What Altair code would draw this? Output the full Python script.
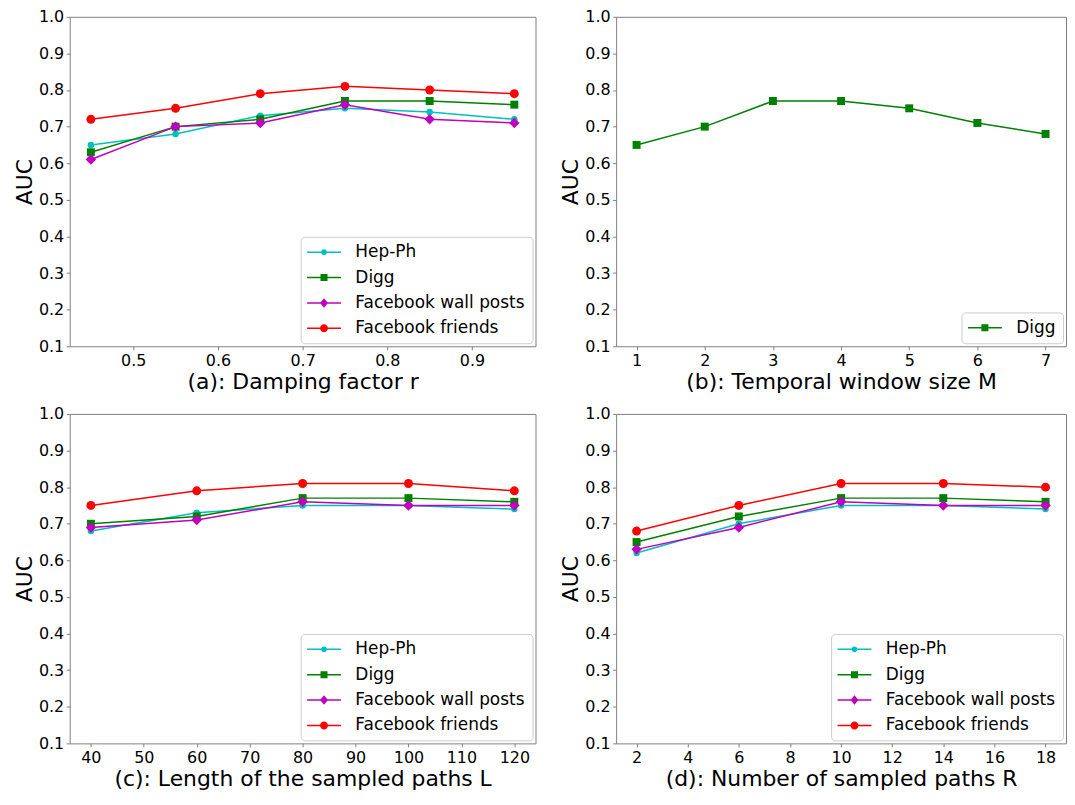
import altair as alt
import pandas as pd

SERIES = ["Hep-Ph", "Digg", "Facebook wall posts", "Facebook friends"]
COLORS = ["#00bfbf", "#008000", "#bf00bf", "#ff0000"]
SHAPES = ["circle", "square", "diamond", "circle"]
SIZES = [42, 64, 110, 80]

a_x = [0.45, 0.55, 0.65, 0.75, 0.85, 0.95]
a_hep = [0.65, 0.68, 0.73, 0.75, 0.74, 0.72]
a_digg = [0.63, 0.70, 0.72, 0.77, 0.77, 0.76]
a_fbw = [0.61, 0.70, 0.71, 0.76, 0.72, 0.71]
a_fbf = [0.72, 0.75, 0.79, 0.81, 0.80, 0.79]

b_x = [1, 2, 3, 4, 5, 6, 7]
b_digg = [0.65, 0.70, 0.77, 0.77, 0.75, 0.71, 0.68]

c_x = [40, 60, 80, 100, 120]
c_hep = [0.68, 0.73, 0.75, 0.75, 0.74]
c_digg = [0.70, 0.72, 0.77, 0.77, 0.76]
c_fbw = [0.69, 0.71, 0.76, 0.75, 0.75]
c_fbf = [0.75, 0.79, 0.81, 0.81, 0.79]

d_x = [2, 6, 10, 14, 18]
d_hep = [0.62, 0.70, 0.75, 0.75, 0.74]
d_digg = [0.65, 0.72, 0.77, 0.77, 0.76]
d_fbw = [0.63, 0.69, 0.76, 0.75, 0.75]
d_fbf = [0.68, 0.75, 0.81, 0.81, 0.80]

y_ticks = [0.1, 0.2, 0.3, 0.4, 0.5, 0.6, 0.7, 0.8, 0.9, 1.0]

FONT = "DejaVu Sans"

# legend symbol paths (line + marker), unit = sqrt(symbolSize)/2 px
L = 2.125
T = 0.094
LINE = f"M{-L},{-T}H{L}V{T}H{-L}Z"


def circ(r):
    return f"M{r},0A{r},{r} 0 1,1 {-r},0A{r},{r} 0 1,1 {r},0Z"


LEG_PATHS = {
    "Hep-Ph": LINE + circ(0.36),
    "Digg": LINE + "M-0.44,-0.44H0.44V0.44H-0.44Z",
    "Facebook wall posts": LINE + "M0,-0.6L0.5,0L0,0.6L-0.5,0Z",
    "Facebook friends": LINE + circ(0.5),
}


def make_df(x, series_vals):
    rows = []
    for name, vals in series_vals:
        for xi, yi in zip(x, vals):
            rows.append({"x": xi, "y": yi, "series": name})
    return pd.DataFrame(rows)


def panel(df, names, xdom, xticks, xfmt, title, width, height, offset):
    idx = [SERIES.index(n) for n in names]
    cols = [COLORS[i] for i in idx]

    xenc = alt.X("x:Q", scale=alt.Scale(domain=xdom, nice=False, zero=False),
                 axis=alt.Axis(values=xticks, format=xfmt, title=title))
    yenc = alt.Y("y:Q", scale=alt.Scale(domain=[0.1, 1.0], nice=False, zero=False),
                 axis=alt.Axis(values=y_ticks, format=".1f", title="AUC"))

    layers = []
    for i in idx:
        n = SERIES[i]
        base = alt.Chart(df).transform_filter(alt.datum.series == n)
        layers.append(base.mark_line(color=COLORS[i], strokeWidth=1.5).encode(x=xenc, y=yenc))
        layers.append(base.mark_point(filled=True, opacity=1, shape=SHAPES[i],
                                      size=SIZES[i], color=COLORS[i]).encode(x=xenc, y=yenc))

    leg = alt.Legend(
        title=None, orient="bottom-right", offset=offset,
        labelFont=FONT, labelFontSize=17, labelColor="black", labelLimit=400,
        symbolSize=256, symbolStrokeWidth=0, symbolOffset=8, labelOffset=23,
        rowPadding=7.5, padding=7,
        fillColor="rgba(255,255,255,0.8)", strokeColor="#cccccc",
        cornerRadius=4,
    )
    # legend-only layer: no rows pass the filter, the legend comes from the scale domains
    legend_layer = alt.Chart(df).transform_filter(alt.datum.series == "__none__").mark_point(
        filled=True, opacity=1
    ).encode(
        x=xenc, y=yenc,
        color=alt.Color("series:N", scale=alt.Scale(domain=names, range=cols), legend=leg),
        shape=alt.Shape("series:N", scale=alt.Scale(domain=names,
                                                    range=[LEG_PATHS[n] for n in names]),
                        legend=leg),
    )
    layers.append(legend_layer)
    return alt.layer(*layers).properties(width=width, height=height)


df_a = make_df(a_x, [("Hep-Ph", a_hep), ("Digg", a_digg),
                     ("Facebook wall posts", a_fbw), ("Facebook friends", a_fbf)])
df_b = make_df(b_x, [("Digg", b_digg)])
df_c = make_df(c_x, [("Hep-Ph", c_hep), ("Digg", c_digg),
                     ("Facebook wall posts", c_fbw), ("Facebook friends", c_fbf)])
df_d = make_df(d_x, [("Hep-Ph", d_hep), ("Digg", d_digg),
                     ("Facebook wall posts", d_fbw), ("Facebook friends", d_fbf)])

W1, W2, H = 468, 452, 331
OFF = 3

pa = panel(df_a, SERIES, [0.425, 0.975], [0.5, 0.6, 0.7, 0.8, 0.9], ".1f",
           "(a): Damping factor r", W1, H, OFF)
pb = panel(df_b, ["Digg"], [0.7, 7.3], [1, 2, 3, 4, 5, 6, 7], "d",
           "(b): Temporal window size M", W2, H, OFF)
pc = panel(df_c, SERIES, [36, 124], [40, 50, 60, 70, 80, 90, 100, 110, 120], "d",
           "(c): Length of the sampled paths L", W1, H, OFF)
pd_ = panel(df_d, SERIES, [1.2, 18.8], [2, 4, 6, 8, 10, 12, 14, 16, 18], "d",
            "(d): Number of sampled paths R", W2, H, OFF)


def res(ch):
    return ch.resolve_scale(color="independent", shape="independent",
                            x="independent", y="independent").resolve_legend(
        color="independent", shape="independent")


top = res(alt.hconcat(pa, pb, spacing=23))
bot = res(alt.hconcat(pc, pd_, spacing=23))
chart = res(alt.vconcat(top, bot, spacing=12)).properties(
    padding={"left": 5, "top": -2, "right": 0, "bottom": 0}
).configure_view(
    stroke="#808080", strokeWidth=1
).configure_axis(
    domain=False, grid=False,
    tickColor="#808080", tickSize=3.5, tickWidth=1,
    labelFont=FONT, labelFontSize=16, labelColor="black",
    titleFont=FONT, titleFontSize=22, titleFontWeight="normal", titleColor="black",
).configure_axisX(
    labelPadding=3, titlePadding=3,
).configure_axisY(
    labelPadding=2.5, titlePadding=2,
)

chart.save("out.html", embed_options={"renderer": "svg", "actions": False})
